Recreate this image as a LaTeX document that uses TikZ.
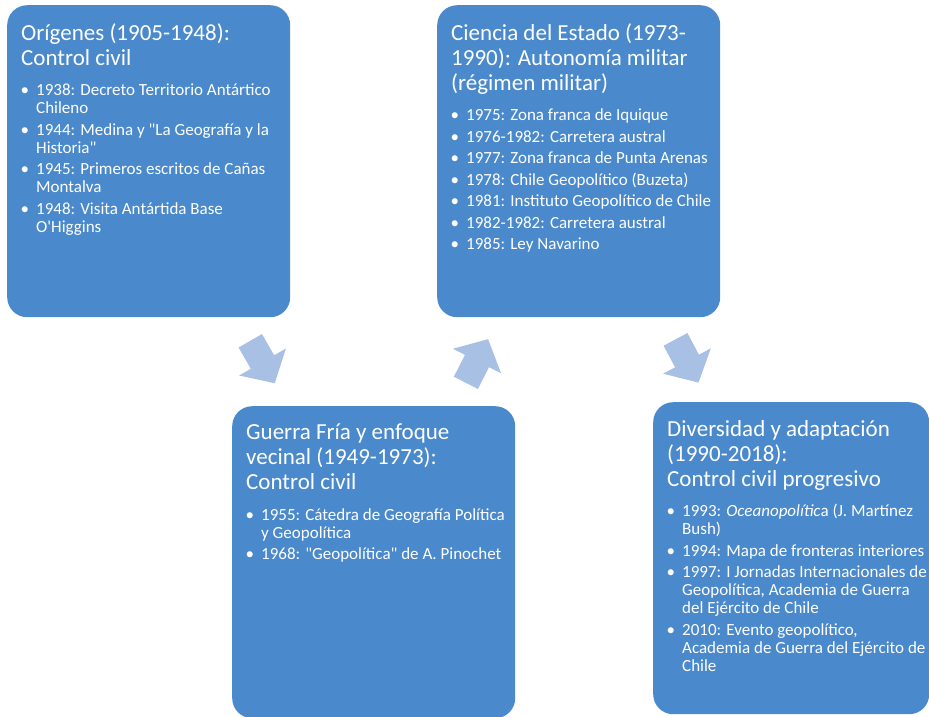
\documentclass[tikz,border=0pt]{standalone}
\usepackage{fontspec}
\setmainfont{Carlito}[Ligatures=TeXOff]
\usepackage{enumitem}
\usepackage{tikz}

\definecolor{stageblue}{HTML}{4A89CB}
\definecolor{arrowblue}{HTML}{A7C0E3}

\setlist[itemize]{label=\textbullet, leftmargin=29pt, labelsep=7pt,
  itemsep=3.5pt, parsep=0pt, topsep=12.5pt, partopsep=0pt}
\newcommand{\stagermargin}{5pt}
\newcommand{\stagetitle}[1]{{\fontsize{23}{25}\selectfont\leftskip=14pt #1\par}}
\newcommand{\stagebody}[3][283pt]{%
  \begin{minipage}[c][312pt][t]{#1}\raggedright
    \vspace*{18pt}\stagetitle{#2}
    \begin{itemize}[rightmargin=\stagermargin]#3\end{itemize}
  \end{minipage}}

\begin{document}
\begin{tikzpicture}[x=1pt,y=-1pt]
        \tikzstyle{stage} = [rectangle, rounded corners=20pt, fill=stageblue, text=white,
                             inner sep=0pt, anchor=north west,
                             font=\fontsize{17}{18}\selectfont]
        \tikzstyle{blockarrow} = [fill=arrowblue]
        \clip (0,0) rectangle (929,716);

        \node[stage] (origenes) at (7,5) {\stagebody{Orígenes (1905-1948):\\Control civil}{%
            \item 1938: Decreto Territorio Antártico Chileno
            \item 1944: Medina y "La Geografía y la Historia"
            \item 1945: Primeros escritos de Cañas Montalva
            \item 1948: Visita Antártida Base O'Higgins}};
        \node[stage] (guerra) at (232,406) {\stagebody{Guerra Fría y enfoque\\vecinal (1949-1973):\\Control civil}{%
            \item 1955: Cátedra de Geografía Política y Geopolítica
            \item 1968: "Geopolítica" de A. Pinochet}};
        \node[stage] (ciencia) at (437,5) {\stagebody{Ciencia del Estado (1973-\\1990): Autonomía militar\\(régimen militar)}{%
            \item 1975: Zona franca de Iquique
            \item 1976-1982: Carretera austral
            \item 1977: Zona franca de Punta Arenas
            \item 1978: Chile Geopolítico (Buzeta)
            \item 1981: Instituto Geopolítico de Chile
            \item 1982-1982: Carretera austral
            \item 1985: Ley Navarino}};
        \node[stage] (diversidad) at (653,402) {\renewcommand{\stagermargin}{0pt}%
          \stagebody[276pt]{Diversidad y adaptación\\(1990-2018):\\Control civil progresivo}{%
            \item 1993: \textit{Oceanopolític}a (J. Martínez Bush)
            \item 1994: Mapa de fronteras interiores
            \item 1997: I Jornadas Internacionales de Geopolítica, Academia de Guerra del Ejército de Chile
            \item 2010: Evento geopolítico,\newline Academia de Guerra del Ejército de Chile}};

        % block arrows between the stages
        \foreach \pos/\ang in {{262.5,362}/-60, {477,361}/63, {687,361}/-62}
            \fill[blockarrow, shift={(\pos)}, rotate=\ang]
                (-24.5,-13.5) -- (0,-13.5) -- (0,-27) -- (24.5,0) -- (0,27) -- (0,13.5) -- (-24.5,13.5) -- cycle;
\end{tikzpicture}
\end{document}
